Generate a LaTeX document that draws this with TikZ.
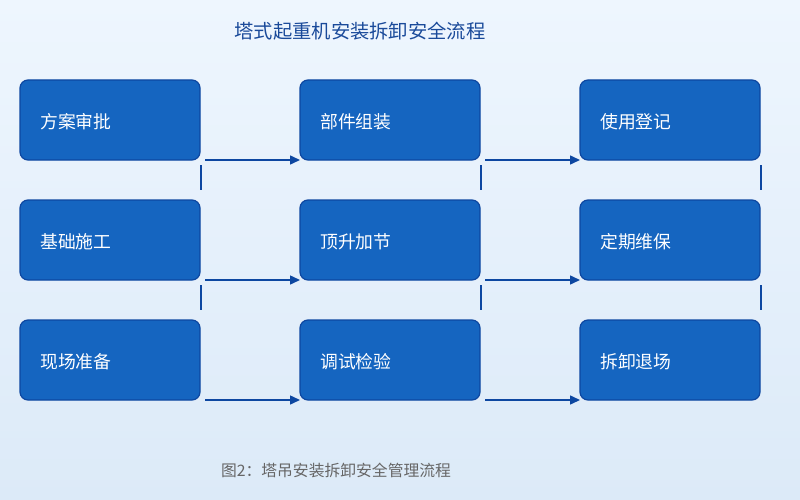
\documentclass[tikz,border=0pt]{standalone}
\usepackage{fontspec}
\setmainfont{Noto Sans CJK SC}
\usetikzlibrary{arrows.meta}
\definecolor{bgtop}{HTML}{EEF6FE}
\definecolor{bgbot}{HTML}{DCEAF8}
\definecolor{boxfill}{HTML}{1565C0}
\definecolor{boxline}{HTML}{0D47A1}
\definecolor{titlecol}{HTML}{1A4A9A}
\definecolor{capcol}{HTML}{666666}
\tikzset{
  stepbox/.style={draw=boxline, fill=boxfill, line width=1.2pt, rounded corners=8pt,
    minimum width=180pt, minimum height=80pt, inner sep=0pt, outer sep=0pt},
  boxtext/.style={text=white, anchor=west, font=\fontsize{17.8}{20}\selectfont, inner sep=0pt},
  flow/.style={draw=boxline, line width=1.5pt, -{Triangle[length=10pt,width=9pt]}},
  stub/.style={draw=boxline, line width=1.5pt},
}
\begin{document}
\begin{tikzpicture}[x=1pt,y=-1pt]
\shade[top color=bgtop, bottom color=bgbot] (0,0) rectangle (800,500);
\useasboundingbox (0,0) rectangle (800,500);
\node[text=titlecol, font=\fontsize{19.3}{22}\selectfont] (title) at (360,31) {塔式起重机安装拆卸安全流程};
% boxes
\foreach \name/\x/\y/\t in {a/110/120/方案审批, b/390/120/部件组装, c/670/120/使用登记,
  d/110/240/基础施工, e/390/240/顶升加节, f/670/240/定期维保,
  g/110/360/现场准备, h/390/360/调试检验, i/670/360/拆卸退场}{
  \node[stepbox] (\name) at (\x,\y) {};
  \node[boxtext] (\name t) at ([xshift=20pt,yshift=-1.5pt]\name.west) {\t};
}
% horizontal arrows
\foreach \p/\q in {a/b, b/c, d/e, e/f, g/h, h/i}{
  \coordinate (\p s) at ([xshift=5pt]\p.south east);
  \draw[flow] (\p s) -- (\q.south west);
}
% vertical stubs
\foreach \p in {a,b,c,d,e,f}{
  \coordinate (\p v1) at ([xshift=1pt,yshift=-5pt]\p.south east);
  \coordinate (\p v2) at ([xshift=1pt,yshift=-30pt]\p.south east);
  \draw[stub] (\p v1) -- (\p v2);
}
\node[text=capcol, font=\fontsize{15.8}{18}\selectfont] (cap) at (336,470) {图2：塔吊安装拆卸安全管理流程};
\end{tikzpicture}
\end{document}
